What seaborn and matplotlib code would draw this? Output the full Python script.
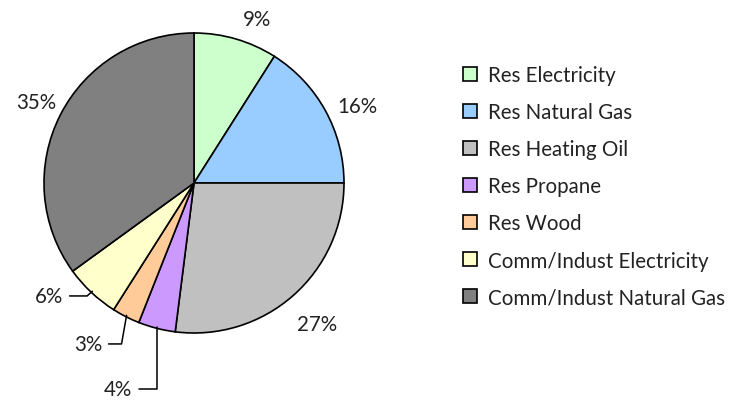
import numpy as np
import matplotlib
matplotlib.use("Agg")
import matplotlib.pyplot as plt
import seaborn as sns

categories = ["Res Electricity", "Res Natural Gas", "Res Heating Oil", "Res Propane",
              "Res Wood", "Comm/Indust Electricity", "Comm/Indust Natural Gas"]
values = [9, 16, 27, 4, 3, 6, 35]
colors = ["#CCFFCC", "#99CCFF", "#C0C0C0", "#CC99FF", "#FFCC99", "#FFFFCC", "#808080"]

sns.set_theme(style="white")
plt.rcParams["font.family"] = ["Lato", "DejaVu Sans"]

W, H = 730, 402
fig = plt.figure(figsize=(W / 100, H / 100), dpi=100)
cx, cy, R = 194, 184, 150
ax = fig.add_axes([(cx - R) / W, (H - cy - R) / H, 2 * R / W, 2 * R / H])
wedges, _ = ax.pie(values, colors=colors, startangle=90, counterclock=False,
                   wedgeprops=dict(edgecolor="black", linewidth=1.2))
ax.set_xlim(-1, 1)
ax.set_ylim(-1, 1)
ax.set_aspect("equal")
ax.axis("off")

total = sum(values)
fs = 14.8
# label positions (axes data units, pie radius = 1)
plain = {0: (0.42, 1.093), 1: (1.087, 0.513), 2: (0.82, -0.94), 6: (-1.053, 0.54)}
# leader labels: (text right edge x, y, angle of leader segment at the pie)
leader = {3: (-0.41, -1.373, 90), 4: (-0.61, -1.073, 80), 5: (-0.87, -0.753, 42)}
for i, w in enumerate(wedges):
    mid = np.deg2rad((w.theta1 + w.theta2) / 2)
    txt = f"{round(100 * values[i] / total)}%"
    if i in plain:
        tx, ty = plain[i]
        ax.text(tx, ty, txt, ha="center", va="center", fontsize=fs, color="#222222")
    else:
        tx, ty, ang = leader[i]
        ax.annotate(txt, xy=(np.cos(mid) * 0.99, np.sin(mid) * 0.99), xytext=(tx, ty),
                    ha="right", va="center", fontsize=fs, color="#222222",
                    arrowprops=dict(arrowstyle="-", color="black", lw=1.1,
                                    shrinkA=2, shrinkB=0,
                                    connectionstyle=f"angle,angleA=0,angleB={ang},rad=0"),
                    annotation_clip=False)

leg = fig.legend(wedges, categories, loc="upper left",
                 bbox_to_anchor=(455 / W, 1 - 58 / H), frameon=False,
                 fontsize=fs, handlelength=0.68, handleheight=0.68,
                 handletextpad=0.53, labelspacing=0.83, borderaxespad=0)
for t in leg.get_texts():
    t.set_color("#222222")

fig.savefig("out.png", dpi=100)
